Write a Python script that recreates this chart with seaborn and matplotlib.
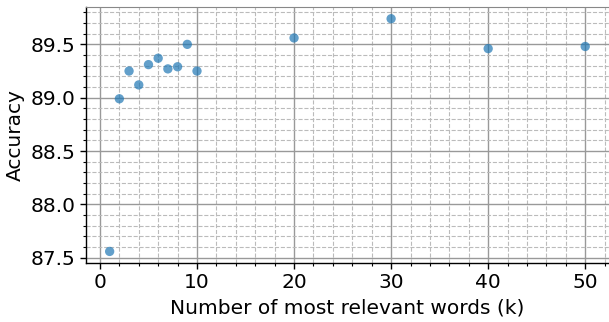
import matplotlib
matplotlib.use("Agg")
import matplotlib.pyplot as plt
import seaborn as sns
from matplotlib.ticker import MultipleLocator
from pandas import DataFrame

# data
k_values = [1, 2, 3, 4, 5, 6, 7, 8, 9, 10, 20, 30, 40, 50]
accuracy = [87.56, 88.99, 89.25, 89.12, 89.31, 89.37, 89.27, 89.29, 89.50, 89.25,
            89.56, 89.74, 89.46, 89.48]

df = DataFrame({"k": k_values, "acc": accuracy})

sns.set_style("white")
plt.rcParams["font.family"] = ["DejaVu Sans"]
plt.rcParams["text.color"] = "black"
plt.rcParams["axes.labelcolor"] = "black"
plt.rcParams["xtick.color"] = "black"
plt.rcParams["ytick.color"] = "black"

fig = plt.figure(figsize=(6.09, 3.22), dpi=100)
ax = fig.add_axes([0.141, 0.183, 0.859, 0.795])

sns.scatterplot(data=df, x="k", y="acc", ax=ax, color="#1f77b4", alpha=0.7,
                s=45, edgecolor="none", zorder=3)

ax.xaxis.set_major_locator(MultipleLocator(10))
ax.xaxis.set_minor_locator(MultipleLocator(2))
ax.yaxis.set_major_locator(MultipleLocator(0.5))
ax.yaxis.set_minor_locator(MultipleLocator(0.1))

ax.grid(which="major", color="#999999", linestyle="-", linewidth=1.0)
ax.grid(which="minor", color="#bbbbbb", linestyle="--", linewidth=0.8)
ax.set_axisbelow(True)

ax.tick_params(which="major", direction="out", length=4, width=1, labelsize=14.5,
               left=True, bottom=True, color="black", labelcolor="black")
ax.tick_params(which="minor", direction="out", length=2, width=0.8,
               left=True, bottom=True, color="black")

for side in ["left", "bottom"]:
    ax.spines[side].set_color("black")
    ax.spines[side].set_linewidth(1.0)
ax.spines["top"].set_color("#888888")
ax.spines["right"].set_visible(False)

ax.set_xlabel("Number of most relevant words (k)", fontsize=14.5, color="black")
ax.set_ylabel("Accuracy", fontsize=14.5, color="black")

fig.savefig("out.png", dpi=100)
